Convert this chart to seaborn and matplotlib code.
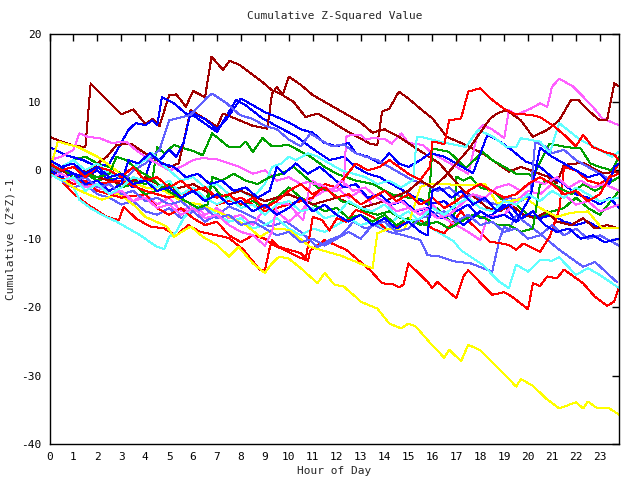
import matplotlib
matplotlib.use('Agg')
import matplotlib.pyplot as plt
import seaborn as sns
import pandas as pd

sns.set_theme(style='white')
plt.rcParams['font.family'] = ['DejaVu Sans Mono', 'DejaVu Sans']

TITLE = "Cumulative Z-Squared Value"
XLABEL = "Hour of Day"
YLABEL = "Cumulative (Z*Z)-1"
XTICKS = list(range(0, 24))
YTICKS = [-40, -30, -20, -10, 0, 10, 20]

# ---- series: (hour, cumulative value) ----
DR1 = [(0,4.9),(0.5,4.2),(1.0,3.6),(1.5,3.4),(1.72,12.7),(2.4,10.3),(3.0,8.2),(3.5,8.9),(4.0,6.8),(4.3,7.5),(4.6,6.5),
       (5.0,11.0),(5.3,11.1),(5.7,9.3),(6.0,11.6),(6.5,10.7),(6.77,16.6),(7.25,14.7),(7.53,16.0),(7.95,15.4),(8.4,14.2),
       (8.9,12.9),(9.3,11.7),(9.6,11.3),(10.2,10.0),(10.7,7.8),(11.2,8.3),(11.7,7.3),(12.3,6.0),(12.8,5.0),(13.4,3.9),
       (13.7,3.7),(13.9,8.6),(14.2,9.0),(14.6,11.5),(15.0,10.5),(15.5,9.0),(16.0,7.6),(16.6,4.9),(17.2,4.0),(18.1,2.5),
       (19.2,-0.2),(19.7,0.5),(20.1,0.0),(20.8,-0.9),(21.2,-1.9),(21.5,0.8),(22.3,1.1),(23.1,-0.4),(23.8,-0.2)]
DR2 = [(0,0.5),(0.5,0.0),(1.0,-1.0),(1.5,-0.5),(2.0,1.0),(2.4,2.0),(2.8,3.7),(3.4,3.9),(4.0,2.5),(4.5,1.5),(5.0,0.5),
       (5.4,1.0),(5.9,8.8),(6.6,7.3),(7.0,6.4),(7.25,8.3),(7.95,7.3),(8.5,6.5),(9.1,6.1),(9.3,11.2),(9.5,12.2),(9.75,11.0),
       (10.0,13.7),(10.5,12.5),(11.0,11.0),(11.5,10.0),(12.0,9.0),(12.5,8.0),(13.0,7.0),(13.5,5.5),(14.0,6.0),(14.6,4.9),
       (15.2,3.5),(16.3,1.0),(16.8,-1.0),(17.3,-3.0),(17.8,-4.0),(18.3,-5.5),(18.8,-6.0),(19.3,-5.0),(19.8,-6.5),
       (20.3,-7.0),(20.8,-6.0),(21.2,-7.5),(21.8,-8.0),(22.3,-7.0),(22.8,-8.5),(23.3,-8.0),(23.8,-8.5)]
DR3 = [(0,-0.5),(1,0.5),(2,-1.0),(3,-2.0),(4,-1.0),(5,-3.0),(6,-2.0),(7,-4.0),(8,-3.0),(9,-4.5),(10,-3.5),(11,-5.0),
       (12,-4.0),(13,-5.5),(14,-4.5),(15,-3.0),(15.5,-1.5),(16.0,-2.5),(16.5,-1.0),(17.0,1.0),(17.5,3.0),(18.0,5.5),
       (18.4,7.5),(18.7,8.3),(19.1,8.8),(19.7,7.3),(20.2,4.9),(20.8,5.9),(21.3,7.3),(21.8,10.3),(22.1,10.3),(22.5,8.8),
       (23.0,7.3),(23.3,7.3),(23.6,12.7),(23.8,12.3)]
R1 = [(0,0.0),(0.5,-1.5),(1.0,-3.4),(1.6,-5.0),(2.4,-6.8),(2.9,-7.3),(3.1,-5.3),(3.6,-7.0),(4.2,-8.2),(4.8,-8.5),
      (5.3,-9.5),(5.8,-8.0),(6.3,-9.0),(7.0,-9.5),(7.5,-9.9),(8.1,-11.6),(8.8,-14.6),(9.0,-14.6),(9.2,-11.4),(9.3,-10.2),
      (9.6,-11.2),(10.5,-12.1),(10.8,-13.2),(10.9,-11.7),(11.5,-10.2),(12.0,-11.0),(12.4,-11.6),(13.4,-14.6),(13.9,-16.5),
      (14.4,-16.7),(14.6,-17.1),(14.8,-16.7),(15.0,-13.6),(15.8,-16.3),(16.0,-17.2),(16.2,-16.3),(17.0,-18.7),(17.3,-15.5),
      (17.5,-14.6),(18.5,-18.2),(19.0,-17.8),(19.3,-18.4),(20.0,-20.3),(20.2,-16.5),(20.5,-16.9),(20.8,-15.5),(21.2,-15.8),
      (21.5,-14.5),(22.3,-16.5),(22.8,-18.5),(23.3,-19.8),(23.6,-19.2),(23.8,-17.1)]
R2 = [(0,-0.3),(0.5,-1.0),(1.0,-2.0),(1.5,-1.5),(2.0,-3.0),(3.0,-4.0),(4.0,-3.5),(4.5,-5.5),(5.0,-6.5),(5.5,-5.5),
      (6.0,-7.0),(6.5,-8.0),(7.0,-7.5),(7.5,-9.5),(8.0,-10.5),(8.5,-9.5),(9.0,-10.0),(9.4,-11.0),(9.8,-11.6),(10.3,-12.5),
      (10.7,-13.1),(11.0,-6.8),(11.4,-7.3),(11.7,-8.8),(12.0,-7.0),(12.4,-7.5),(12.8,-5.8),(13.1,-6.1),(13.5,-6.8),
      (14.1,-8.7),(14.4,-8.3),(15.0,-7.5),(15.5,-7.3),(16.0,-8.5),(16.5,-9.2),(17.2,-6.0),(17.6,-7.7),(18.4,-10.4),
      (19.2,-10.9),(19.5,-11.6),(19.8,-10.7),(20.5,-11.9),(20.9,-9.7),(21.3,-5.8),(21.5,0.5),(22.0,0.0),(22.5,-1.5),
      (23.0,-2.0),(23.4,-1.0),(23.8,1.0)]
R3 = [(0,0.5),(0.5,-0.5),(1,-1.5),(2,-2.0),(3,-1.5),(4,-3.0),(5,-4.0),(6,-3.0),(7,-5.0),(8,-4.0),(9,-6.0),(10,-5.0),
      (11,-4.0),(11.5,-2.0),(12,-2.5),(12.8,1.0),(13.3,0.0),(13.8,0.5),(14.2,1.5),(14.6,0.5),(15.0,-0.5),(15.5,-1.4),
      (15.9,0.5),(16.0,4.2),(16.3,4.0),(16.5,3.8),(16.7,7.3),(17.2,7.6),(17.5,11.5),(18.0,12.0),(18.5,10.3),(19.0,9.0),
      (19.4,8.3),(20.1,8.1),(20.5,7.8),(21.1,6.4),(21.6,4.9),(22.0,3.5),(22.3,5.2),(22.7,3.4),(23.2,2.7),(23.6,2.3),(23.8,1.5)]
R4 = [(0,1.0),(0.5,0.0),(1.0,0.5),(1.5,-1.0),(2.0,0.5),(2.5,0.0),(3.0,-1.0),(3.5,0.5),(4.0,-1.5),(4.5,-1.0),(5.0,-2.5),
      (5.5,-1.5),(6.0,-3.0),(6.5,-2.5),(7.0,-4.0),(7.5,-3.5),(8.0,-5.0),(8.5,-4.0),(9.0,-5.5),(9.5,-4.5),(10.0,-3.0),
      (10.5,-2.0),(11.0,-3.5),(11.5,-2.5),(12.0,-4.0),(12.5,-3.5),(13.0,-5.0),(13.5,-4.0),(14.0,-3.0),(14.5,-4.5),
      (15.0,-3.5),(15.5,-5.0),(16.0,-4.0),(16.5,-5.5),(17.0,-4.5),(17.5,-3.0),(18.0,-2.0),(18.5,-3.0),(19.0,-4.0),
      (19.5,-3.5),(20.0,-2.0),(20.5,-1.0),(21.0,-2.0),(21.5,-3.5),(22.0,-3.0),(22.5,-4.5),(23.0,-3.5),(23.4,-1.0),(23.8,-0.5)]
G1 = [(0,0.0),(0.5,0.5),(1,1.5),(1.5,2.0),(2,1.0),(2.5,0.5),(3,-0.5),(3.5,-1.5),(4.0,-2.0),(4.3,-1.5),(4.5,3.4),(4.8,2.5),
      (5.2,3.7),(6.1,2.7),(6.4,2.2),(6.8,5.4),(7.5,3.4),(7.95,3.4),(8.2,4.2),(8.5,2.7),(8.9,4.7),(9.3,3.5),(10.0,3.7),
      (10.9,2.0),(11.5,0.5),(12.0,-0.5),(12.8,-1.5),(13.5,-2.0),(14.3,-3.5),(15.0,-4.0),(15.5,-4.2),(16.0,-5.0),(16.5,-6.5),
      (16.9,-8.2),(17.0,-0.9),(17.3,-1.5),(17.6,-1.0),(18.0,-2.5),(18.5,-3.0),(19.0,-4.5),(19.5,-5.0),(20.0,-6.5),
      (20.5,-7.0),(21.0,-6.0),(21.5,-5.5),(22.0,-4.0),(22.5,-5.5),(23.0,-6.5),(23.8,-3.0)]
G2 = [(0,-0.5),(0.5,0.5),(1.0,-1.0),(1.5,-0.5),(2.0,-1.5),(2.5,-1.0),(3.0,-2.5),(3.5,-2.0),(4.0,-3.5),(4.5,-3.0),
      (5.0,-2.0),(5.5,-3.5),(6.0,-3.0),(6.5,-4.5),(6.8,-2.0),(7.1,-3.5),(7.5,-4.0),(8.0,-5.0),(8.5,-4.5),(9.0,-5.5),
      (9.5,-4.0),(10.0,-2.5),(10.5,-4.0),(11.0,-5.0),(11.5,-6.0),(12.0,-5.5),(12.5,-7.0),(13.0,-6.5),(13.5,-7.5),
      (14.0,-6.5),(14.5,-8.0),(15.0,-7.0),(15.5,-8.0),(15.8,-7.5),(16.0,3.2),(16.7,2.7),(17.4,0.3),(18.1,2.7),(18.5,1.5),
      (19.0,0.5),(19.5,-0.5),(20.0,-0.5),(20.2,-0.9),(20.9,3.9),(21.6,3.4),(22.2,3.2),(22.6,1.0),(23.0,0.5),(23.5,0.0),(23.8,2.0)]
G3 = [(0,0.5),(0.5,0.0),(1.0,0.5),(1.5,-0.5),(2.0,-1.0),(2.5,-0.5),(2.8,2.0),(3.2,1.5),(3.7,0.0),(4.2,-1.0),(4.7,-2.5),
      (5.2,-3.5),(5.7,-4.5),(6.2,-5.5),(6.6,-5.0),(6.8,-1.0),(7.2,-1.5),(7.7,-0.5),(8.2,-1.5),(8.7,-2.0),(9.2,-1.0),
      (9.7,-0.5),(10.2,0.5),(10.7,-1.0),(11.2,-2.5),(11.7,-3.0),(12.2,-4.5),(12.7,-5.0),(13.2,-6.0),(13.7,-6.5),(14.2,-6.0),
      (14.7,-7.0),(15.2,-7.5),(15.7,-8.0),(16.2,-7.5),(16.7,-8.5),(17.2,-7.5),(17.7,-6.5),(18.2,-7.0),(18.7,-8.0),
      (19.2,-8.0),(19.7,-9.0),(20.2,-8.5),(20.5,-2.0),(20.8,-1.5),(21.3,-2.5),(21.8,-3.5),(22.3,-2.0),(22.8,-3.0),
      (23.3,-2.0),(23.8,-1.0)]
B1 = [(0,3.4),(0.7,2.2),(1.4,1.5),(2.0,0.5),(2.5,1.0),(2.9,3.4),(3.3,5.9),(3.6,6.9),(4.0,6.6),(4.3,7.3),(4.5,6.6),
      (4.7,10.7),(5.2,9.8),(5.7,8.3),(6.1,7.8),(7.0,5.6),(7.8,10.3),(8.2,9.5),(8.9,7.6),(9.8,5.9),(10.3,5.0),(10.9,3.4),
      (11.7,1.5),(12.3,2.0),(12.8,0.5),(13.3,-0.5),(13.8,-1.0),(14.3,-2.0),(14.8,-3.0),(15.3,-4.0),(15.8,-5.0),(16.5,-4.5),
      (17.0,-6.0),(17.5,-5.0),(18.0,-7.0),(18.5,-6.5),(19.0,-5.0),(19.5,-7.5),(20.0,-6.5),(20.5,-7.0),(21.0,-6.5),
      (21.5,-7.5),(22.0,-8.0),(22.5,-7.5),(23.0,-8.5),(23.8,-8.5)]
B2 = [(0,-0.5),(0.5,0.5),(1.0,-0.5),(1.5,-1.0),(2.0,0.0),(2.5,-1.5),(3.0,-1.0),(3.5,-2.5),(4.0,-1.0),(4.3,2.0),
      (4.6,1.5),(5.0,3.0),(5.3,2.0),(5.6,4.0),(5.9,8.5),(6.2,8.0),(6.5,7.5),(7.0,6.0),(7.4,7.5),(7.7,9.0),(8.0,10.5),
      (8.5,9.5),(9.0,8.5),(9.5,7.8),(10.0,7.0),(10.5,6.0),(11.0,5.5),(11.5,4.0),(12.0,3.5),(12.5,4.0),(12.8,2.5),
      (13.3,2.0),(13.8,1.0),(14.2,2.5),(14.6,1.0),(15.0,0.5),(15.5,1.5),(15.9,2.5),(16.5,2.0),(17.0,1.0),(17.7,-0.4),
      (18.3,5.2),(18.7,4.5),(19.3,3.0),(19.9,1.3),(20.5,0.5),(21.0,-1.0),(21.5,-2.0),(22.0,-3.5),(22.5,-4.0),(23.0,-5.0),
      (23.4,-4.0),(23.8,-5.5)]
B3 = [(0,0.0),(0.5,-1.0),(1.0,-0.5),(1.5,-2.0),(2.0,-1.5),(2.5,-3.0),(3.0,-2.0),(3.3,1.5),(3.7,1.0),(4.2,2.5),
      (4.7,1.0),(5.2,0.5),(5.7,-1.0),(6.2,-0.5),(6.7,-2.0),(7.2,-1.5),(7.7,-3.0),(8.2,-2.5),(8.7,-4.0),(9.2,-3.0),
      (9.5,0.5),(9.8,-0.5),(10.3,1.0),(10.8,-0.5),(11.3,0.5),(11.8,-1.0),(12.3,-2.5),(12.8,-2.0),(13.3,-4.0),(13.8,-3.5),
      (14.3,-5.0),(14.8,-4.5),(15.3,-6.0),(15.8,-5.5),(16.3,-7.0),(16.8,-6.5),(17.3,-8.0),(18.0,-6.0),(18.5,-7.0),
      (19.0,-6.5),(19.5,-7.5),(20.1,-3.8),(20.5,3.3),(21.0,2.0),(21.5,1.0),(22.0,0.0),(22.5,-1.0),(23.0,-0.5),
      (23.4,-2.0),(23.6,0.5),(23.8,1.0)]
B4 = [(0,1.5),(0.5,0.5),(1.0,1.0),(1.5,-0.5),(2.0,0.5),(2.5,-1.0),(3.0,-0.5),(3.5,-2.0),(4.0,-1.5),(4.5,-3.0),
      (5.0,-2.5),(5.5,-4.0),(6.0,-3.0),(6.5,-4.5),(7.0,-3.5),(7.5,-5.0),(8.0,-4.5),(8.5,-6.0),(9.0,-5.0),(9.5,-6.5),
      (10.0,-5.5),(10.5,-4.0),(11.0,-6.0),(11.5,-5.0),(12.0,-6.5),(12.5,-7.5),(13.0,-6.5),(13.5,-8.0),(14.0,-7.0),
      (14.5,-8.5),(15.0,-7.5),(15.5,-9.0),(15.8,-9.5),(16.0,-3.0),(16.3,-2.5),(16.8,-4.0),(17.2,-3.0),(17.7,-5.0),
      (18.2,-4.0),(18.7,-6.0),(19.2,-5.0),(19.7,-7.0),(20.2,-6.0),(20.7,-8.0),(21.2,-9.0),(21.7,-8.5),(22.2,-10.0),
      (22.7,-9.5),(23.2,-10.5),(23.8,-10.0)]
LB1 = [(0,-0.5),(0.5,-1.5),(1.0,-2.5),(1.5,-2.0),(2,-3.5),(2.5,-4.0),(3,-5.0),(3.5,-4.5),(4,-6.0),(4.5,-6.5),(5,-5.5),
       (5.5,-7.0),(6.0,-6.0),(6.5,-7.5),(7,-6.5),(7.5,-5.3),(8,-6.0),(8.6,-7.0),(9.2,-8.2),(9.9,-7.5),(10.5,-9.0),
       (11.2,-11.2),(11.7,-10.2),(12.2,-9.5),(12.7,-7.5),(13.2,-8.5),(13.6,-8.0),(14.2,-9.0),(14.8,-9.5),(15.5,-10.2),
       (15.8,-12.4),(16.3,-12.6),(16.9,-13.3),(17.6,-13.6),(18.5,-14.8),(18.8,-10.2),(19.0,-8.2),(19.2,-8.7),(19.5,-6.6),
       (20.4,-9.0),(21.3,-11.6),(22.3,-14.1),(22.8,-13.4),(23.7,-16.3)]
LB2 = [(0,-0.5),(0.5,-1.5),(1.0,-1.0),(1.5,-2.5),(2.0,-2.0),(2.5,-3.0),(3.0,-2.0),(3.5,0.0),(4.0,1.0),(4.6,3.0),
       (5.0,7.3),(5.9,8.1),(6.6,10.7),(6.8,11.2),(7.4,9.8),(7.95,8.1),(8.5,7.5),(9.0,6.5),(9.5,6.0),(10.0,4.5),(10.5,3.5),
       (10.9,5.4),(11.3,4.5),(11.8,3.5),(12.3,3.8),(12.8,2.5),(13.2,2.0),(13.7,1.5),(14.2,0.5),(14.7,-0.5),(15.2,-1.5),
       (15.7,-2.0),(16.2,-3.0),(16.7,-2.5),(17.2,-4.0),(17.7,-3.5),(18.2,-4.5),(18.7,-5.0),(19.2,-4.0),(19.7,-4.5),
       (20.1,-3.5),(20.3,4.2),(20.7,3.5),(21.0,2.5),(21.5,3.0),(22.0,1.5),(22.5,0.5),(23.0,-0.5),(23.5,-1.5),(23.8,-1.0)]
LB3 = [(0,0.5),(0.5,-0.5),(1,-1.5),(1.5,-1.0),(2,-2.5),(2.5,-2.0),(3,-3.5),(3.5,-3.0),(4,-4.5),(4.5,-4.0),(5,-5.0),
       (5.5,-4.5),(6.0,-6.0),(6.5,-5.5),(7.0,-7.0),(7.5,-6.5),(8.0,-8.0),(8.5,-7.5),(9.0,-8.5),(9.5,-9.5),(10.0,-9.0),
       (10.5,-10.5),(11.0,-10.0),(11.5,-11.0),(12.0,-10.0),(12.5,-9.0),(13.0,-10.0),(13.5,-8.0),(14.0,-7.5),(14.5,-9.0),
       (15.0,-8.5),(15.5,-7.0),(16.5,-6.0),(17.0,-7.5),(17.5,-6.5),(18.0,-8.0),(18.5,-7.5),(19.0,-9.0),(19.5,-8.5),
       (20.0,-10.0),(20.5,-9.5),(21.0,-8.0),(21.5,-9.5),(22.0,-8.5),(22.5,-10.0),(23.0,-9.5),(23.8,-11.0)]
P1 = [(0,0.0),(0.5,-1.0),(1,-2.0),(1.5,-1.0),(2,-3.0),(2.5,-2.0),(3,-3.5),(3.5,-4.5),(4,-3.5),(4.5,-5.0),(5,-4.0),
      (5.5,-6.0),(6,-5.0),(6.5,-6.5),(7,-5.5),(7.5,-7.0),(8,-6.5),(8.5,-8.0),(9.0,-5.5),(9.5,-6.0),(10.0,-7.5),(10.5,-6.0),
      (11.0,-4.0),(11.5,-3.0),(12.0,-3.0),(12.3,-2.4),(12.4,4.9),(12.6,5.2),(13.0,5.2),(13.2,4.5),(13.5,4.7),(14.0,4.6),
      (14.3,3.9),(14.7,5.4),(15.0,4.0),(15.6,3.7),(16.0,2.5),(16.5,1.5),(17.0,0.5),(17.5,-0.5),(17.8,4.0),(17.9,5.9),
      (18.1,6.6),(18.5,6.0),(19.0,4.7),(19.2,8.8),(19.5,8.1),(20.1,9.0),(20.5,9.8),(20.8,9.3),(21.0,12.2),(21.3,13.4),
      (21.9,12.2),(22.7,9.3),(23.1,7.6),(23.8,6.6)]
P2 = [(0,1.5),(0.5,2.0),(1.0,3.0),(1.25,5.4),(1.6,4.9),(2.1,4.7),(2.6,4.0),(3.2,4.2),(3.6,3.0),(4.0,2.0),(4.5,1.0),
      (5.0,0.0),(5.5,0.5),(6.0,1.5),(6.4,1.8),(7.0,1.6),(7.95,0.5),(8.5,-0.5),(9.0,0.0),(9.5,-1.5),(10.0,-1.0),
      (10.5,-2.0),(11.0,-1.5),(11.5,-3.0),(12.0,-2.5),(12.5,-4.0),(13.0,-3.0),(13.5,-5.0),(14.0,-4.5),(14.5,-6.0),
      (15.0,-5.5),(15.5,-6.5),(16.0,-5.0),(16.5,-7.0),(17.0,-8.0),(17.5,-9.0),(18.0,-10.2),(18.3,-6.8),(19.0,-6.5),
      (19.5,-4.5),(20.0,-3.0),(20.5,-3.5),(21.0,-2.0),(21.5,-3.5),(22.0,-5.0),(22.5,-4.5),(23.0,-6.0),(23.8,-5.0)]
P3 = [(0,-1.0),(0.5,-0.5),(1,-1.5),(1.5,-2.5),(2,-2.0),(2.5,-3.5),(3,-3.0),(3.5,-4.5),(4,-4.0),(4.5,-5.5),(5,-5.0),
      (5.5,-6.5),(6,-5.5),(6.5,-7.0),(7,-6.5),(7.5,-8.0),(8,-9.0),(8.5,-9.5),(9.0,-11.0),(9.3,-9.0),(9.5,-4.8),(10.0,-5.0),
      (10.6,-7.3),(10.9,-1.9),(11.3,-2.0),(11.8,-3.0),(12.2,-1.5),(12.7,-3.0),(13.2,-2.5),(13.7,-4.0),(14.2,-5.0),
      (14.7,-4.5),(15.2,-6.0),(15.7,-5.5),(16.2,-7.0),(16.7,-6.5),(17.2,-5.0),(17.7,-3.5),(18.2,-4.0),(18.7,-2.5),
      (19.2,-2.0),(19.7,-3.0),(20.2,-1.5),(20.7,-2.0),(21.2,-1.0),(21.7,-2.5),(22.2,-1.5),(22.7,-2.5),(23.2,-2.0),(23.8,-3.0)]
C1 = [(0,0.0),(0.5,-1.0),(1.0,-2.5),(1.25,-4.3),(1.7,-5.5),(2.2,-6.5),(2.8,-7.5),(3.3,-8.5),(3.8,-9.5),(4.2,-10.5),
      (4.5,-11.2),(4.8,-11.5),(5.0,-9.7),(5.3,-9.0),(5.6,-7.0),(6.0,-5.5),(6.5,-5.0),(7.0,-6.5),(7.5,-7.5),(8.0,-7.0),
      (8.5,-8.5),(9.0,-8.0),(9.5,-7.0),(10.0,-8.5),(10.5,-9.5),(11.0,-8.5),(11.5,-9.0),(12.0,-8.0),(12.5,-7.0),
      (13.0,-8.0),(13.5,-7.5),(14.0,-8.5),(14.5,-7.0),(15.0,-6.0),(15.5,-7.5),(16.0,-8.5),(16.9,-10.4),(17.2,-11.7),
      (18.1,-13.8),(18.8,-16.3),(19.2,-17.2),(19.5,-13.8),(20.0,-14.8),(20.5,-13.1),(21.0,-13.2),(21.3,-12.7),
      (22.0,-15.3),(22.5,-14.3),(23.0,-15.3),(23.8,-17.2)]
C2 = [(0,1.0),(0.5,0.5),(1.0,1.5),(1.5,0.0),(2.0,1.0),(2.5,-0.5),(3.0,-1.0),(3.5,0.5),(4.0,1.5),(4.3,2.5),(4.7,1.0),
      (5.0,0.0),(5.5,-1.5),(6.0,-1.0),(6.5,-2.5),(7.0,-2.0),(7.5,-3.5),(8.0,-3.0),(8.5,-4.0),(9.0,-2.0),(9.3,0.5),
      (9.7,1.0),(10.0,2.0),(10.3,1.5),(10.8,2.5),(11.2,2.0),(11.7,1.0),(12.2,0.0),(12.7,-0.5),(13.2,-1.0),(13.7,-2.0),
      (14.2,-1.5),(14.7,-2.5),(15.2,-1.4),(15.35,4.9),(15.5,4.9),(16.3,4.2),(17.4,3.4),(17.9,5.9),(18.5,5.0),(19.1,3.4),
      (19.5,3.4),(19.7,4.7),(20.5,4.2),(20.9,2.5),(21.3,6.9),(22.2,4.4),(23.0,3.0),(23.5,2.0),(23.8,2.7)]
C3 = [(0,-0.5),(0.5,-1.5),(1.0,-1.0),(1.5,-3.0),(2.0,-2.0),(2.5,-3.5),(3.0,-2.5),(3.5,-1.0),(4,-1.5),(4.5,-2.5),
      (5,-1.5),(5.5,-3.5),(6,-2.5),(6.5,-4.0),(7,-5.0),(7.5,-4.0),(8,-5.5),(8.5,-5.0),(9,-6.5),(9.5,-5.0),(10,-4.5),
      (10.5,-6.0),(11,-5.5),(11.5,-7.0),(12,-6.5),(12.5,-4.5),(13,-5.5),(13.5,-6.0),(14,-5.0),(14.5,-6.5),(15,-7.5),
      (15.5,-7.0),(16,-5.5),(16.5,-6.5),(17,-5.0),(17.5,-4.0),(18,-5.5),(18.5,-6.0),(19,-4.5),(19.5,-5.0),(20,-3.5),
      (20.5,-4.5),(21,-3.0),(21.5,-4.0),(22,-2.5),(22.5,-3.5),(23,-4.5),(23.8,-4.0)]
Y1 = [(0,0.0),(0.5,-1.2),(1.0,-2.5),(1.6,-3.5),(2.2,-4.3),(2.9,-3.4),(3.6,-5.3),(4.0,-6.8),(4.9,-8.2),(5.2,-9.7),
      (5.9,-8.2),(6.4,-9.7),(7.0,-10.9),(7.5,-12.6),(7.9,-11.2),(8.5,-13.6),(9.0,-15.0),(9.3,-13.6),(9.6,-12.6),
      (10.0,-12.9),(10.5,-14.3),(11.2,-16.5),(11.5,-15.0),(11.9,-16.7),(12.3,-17.0),(12.8,-18.5),(13.0,-19.2),(13.7,-20.2),
      (14.2,-22.4),(14.7,-23.1),(15.0,-22.4),(15.3,-22.8),(15.9,-25.2),(16.5,-27.4),(16.7,-26.2),(17.2,-27.9),(17.5,-25.5),
      (18.0,-26.3),(18.7,-28.7),(19.5,-31.6),(19.7,-30.5),(20.2,-31.5),(20.8,-33.5),(21.3,-34.8),(22.0,-33.9),(22.3,-34.8),
      (22.5,-33.8),(22.9,-34.8),(23.4,-34.8),(23.8,-35.7)]
Y2 = [(0,0.0),(0.35,4.2),(1.2,3.4),(2.0,2.0),(2.6,0.5),(3.3,-1.5),(4.0,-2.5),(4.8,-3.0),(5.5,-4.5),(6.3,-5.0),(7.0,-6.0),
      (7.5,-6.8),(8.2,-8.0),(8.8,-9.7),(9.4,-8.5),(10.0,-8.7),(10.9,-11.2),(11.5,-11.8),(12.2,-12.5),(13.1,-13.8),
      (13.5,-14.3),(13.7,-9.2),(14.2,-8.5),(14.8,-8.7),(15.1,-6.8),(15.5,-2.4),(15.9,-2.0),(16.5,-2.0),(17.2,-2.2),
      (18.2,-2.0),(18.7,-4.8),(19.9,-4.1),(20.5,-5.5),(21.2,-6.8),(21.8,-6.2),(22.5,-6.0),(23.1,-8.5),(23.8,-8.5)]

DARKRED, RED, GREEN, BLUE = '#a00000', '#ff0000', '#00a000', '#0000ff'
LBLUE, PINK, CYAN, YELLOW = '#6060ff', '#ff60ff', '#60ffff', '#ffff00'

series = [
    ("DR1", DR1, DARKRED), ("R1", R1, RED), ("G1", G1, GREEN), ("B1", B1, BLUE),
    ("LB1", LB1, LBLUE), ("P1", P1, PINK), ("C1", C1, CYAN), ("Y1", Y1, YELLOW),
    ("DR2", DR2, DARKRED), ("R2", R2, RED), ("G2", G2, GREEN), ("B2", B2, BLUE),
    ("LB2", LB2, LBLUE), ("P2", P2, PINK), ("C2", C2, CYAN), ("Y2", Y2, YELLOW),
    ("DR3", DR3, DARKRED), ("R3", R3, RED), ("G3", G3, GREEN), ("B3", B3, BLUE),
    ("LB3", LB3, LBLUE), ("P3", P3, PINK), ("C3", C3, CYAN), ("R4", R4, RED), ("B4", B4, BLUE),
]

rows = []
for name, pts, col in series:
    for h, v in pts:
        rows.append({"series": name, "hour": h, "value": v})
df = pd.DataFrame(rows)
palette = {name: col for name, pts, col in series}

fig = plt.figure(figsize=(6.4, 4.8), dpi=100)
L, R, T, B = 49.5, 619.0, 33.5, 444.0
ax = fig.add_axes([L / 640, 1 - B / 480, (R - L) / 640, (B - T) / 480])

sns.lineplot(data=df, x="hour", y="value", hue="series", hue_order=[s[0] for s in series],
             palette=palette, estimator=None, sort=False, legend=False,
             linewidth=0.72, antialiased=False, ax=ax)

ax.set_xlim(0, 23.8)
ax.set_ylim(-40, 20)
ax.set_xticks(XTICKS)
ax.set_xticklabels([str(t) for t in XTICKS])
ax.set_yticks(YTICKS)
ax.set_yticklabels([str(t) for t in YTICKS])
ax.tick_params(direction='in', length=5, width=1, top=True, right=True,
               labelsize=8, colors='black', pad=6)
for s in ax.spines.values():
    s.set_color('black')
    s.set_linewidth(1)
ax.set_xlabel("")
ax.set_ylabel("")
ax.grid(False)
ax.set_facecolor('white')

fig.text(335 / 640, 1 - 16 / 480, TITLE, ha='center', va='center', fontsize=8)
fig.text(334 / 640, 1 - 471 / 480, XLABEL, ha='center', va='center', fontsize=8)
fig.text(11 / 640, 1 - 239 / 480, YLABEL, ha='center', va='center', rotation=90, fontsize=8)

fig.savefig("out.png", dpi=100, facecolor='white')
